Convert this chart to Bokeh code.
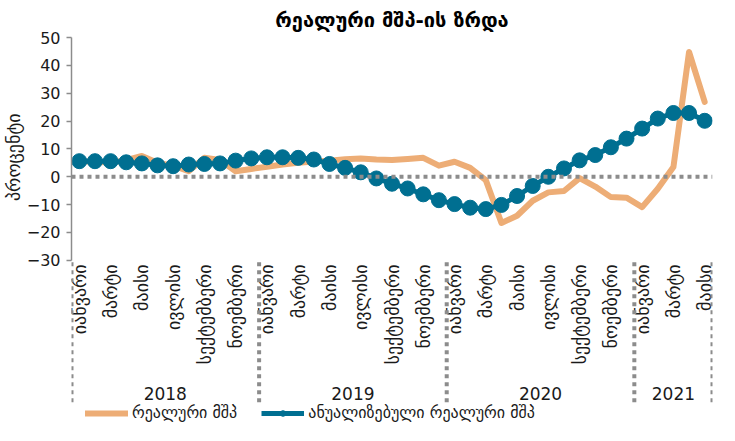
import math
from bokeh.plotting import figure
from bokeh.models import Range1d, FixedTicker, Legend, LegendItem, Span, ColumnDataSource, Title
from bokeh.core.properties import value
from bokeh.embed import file_html
from bokeh.resources import INLINE

# ---- data ----
title_text = "რეალური მშპ-ის ზრდა"
y_label = "პროცენტი"
month_names = ["იანვარი", "თებერვალი", "მარტი", "აპრილი", "მაისი", "ივნისი",
               "ივლისი", "აგვისტო", "სექტემბერი", "ოქტომბერი", "ნოემბერი", "დეკემბერი"]
years = ["2018", "2019", "2020", "2021"]
months_per_year = [12, 12, 12, 5]
series_real_name = "რეალური მშპ"
series_ann_name = "ანუალიზებული რეალური მშპ"

real_gdp = [5.5, 5.5, 5.0, 6.0, 7.5, 5.0, 4.0, 2.0, 6.8, 6.0, 2.0, 2.8,
            3.6, 4.4, 5.0, 5.5, 5.8, 6.3, 6.6, 6.2, 6.0, 6.4, 6.8, 4.0,
            5.4, 3.2, -1.2, -16.6, -14.0, -8.6, -5.6, -5.1, -0.5, -3.5, -7.3, -7.5,
            -10.9, -4.3, 3.5, 44.8, 26.9]
annualized = [5.6, 5.6, 5.6, 5.2, 4.8, 4.1, 3.8, 4.4, 4.6, 4.8, 5.8, 6.6,
              7.0, 7.0, 6.8, 6.2, 4.6, 3.2, 1.6, -0.6, -2.5, -4.2, -6.3, -8.4,
              -9.8, -11.1, -11.6, -10.1, -6.9, -3.3, 0.0, 3.0, 5.9, 7.8, 10.6, 13.7,
              17.3, 20.9, 22.9, 22.9, 20.1]
y_ticks = [-30, -20, -10, 0, 10, 20, 30, 40, 50]
label_every = 2

# ---- layout constants (pixels) ----
W, H = 719, 424
BORDER_L, BORDER_R, BORDER_T, BORDER_B = 60, 7, 35, 0
AXIS_PX = 224                # pixel height of the value axis (-30..50)
MONTH_GAP = 4                # gap between axis bottom and month labels
YEAR_OFFSET = 134            # year label centre below axis bottom
SEP_TOP, SEP_BOTTOM = 2, 143 # separator span below axis bottom
YLABEL_OFFSET = 76           # y-label top, px below frame top

ORANGE = "#EDAD76"
BLUE = "#006F91"
GREY = "#8C8C8C"
TXT = "#1A1A1A"
FONT = "DejaVu Sans"

# ---- derived positions ----
n = len(real_gdp)
x = list(range(n))
month_of = [i % 12 for i in x]
label_x = [i for i in x if month_of[i] % label_every == 0]
label_txt = [month_names[month_of[i]] for i in label_x]
starts = []
s = 0
for m in months_per_year:
    starts.append(s)
    s += m
year_bounds = [st - 0.5 for st in starts] + [n - 0.5]
year_centers = [st + (m - 1) / 2 for st, m in zip(starts, months_per_year)]

y_lo, y_hi = y_ticks[0], y_ticks[-1]
frame_px = H - BORDER_T - BORDER_B
ppu = AXIS_PX / (y_hi - y_lo)
y_start = y_hi - frame_px / ppu

def below(px):
    return y_lo - px / ppu

src = ColumnDataSource(dict(x=x, real=real_gdp, ann=annualized))
msrc = ColumnDataSource(dict(x=label_x, y=[below(MONTH_GAP)] * len(label_x), t=label_txt))
ysrc = ColumnDataSource(dict(x=year_centers, y=[below(YEAR_OFFSET)] * len(years), t=years))
ssrc = ColumnDataSource(dict(x=year_bounds, y0=[below(SEP_TOP)] * len(year_bounds),
                             y1=[below(SEP_BOTTOM)] * len(year_bounds)))

p = figure(width=W, height=H, output_backend="svg", toolbar_location=None,
           x_range=Range1d(-0.5, n - 0.5), y_range=Range1d(y_start, y_hi),
           x_axis_location=None,
           min_border_left=BORDER_L, min_border_right=BORDER_R,
           min_border_top=BORDER_T, min_border_bottom=BORDER_B)
p.outline_line_color = None
p.grid.visible = False
p.background_fill_color = "white"

p.title.text = title_text
p.title.align = "center"
p.title.text_font = FONT
p.title.text_font_size = "20px"
p.title.text_font_style = "bold"
p.title.text_color = "#000000"
p.title.standoff = 11

zero = Span(location=0, dimension="width", line_color=GREY, line_width=4, line_dash="4 4")
p.add_layout(zero)

r_or = p.line("x", "real", source=src, line_color=ORANGE, line_width=6, line_join="round", line_cap="round")
r_bl = p.line("x", "ann", source=src, line_color=BLUE, line_width=5, line_join="round")
r_pt = p.scatter("x", "ann", source=src, size=15, fill_color=BLUE, line_color=BLUE)

p.text("x", "y", text="t", source=msrc, angle=math.pi / 2, text_align="right",
       text_baseline="middle", text_font=value(FONT), text_font_size=value("18px"),
       text_color=TXT)
p.text("x", "y", text="t", source=ysrc, text_align="center", text_baseline="middle",
       text_font=value(FONT), text_font_size=value("17px"), text_color=TXT)
p.segment(x0="x", y0="y0", x1="x", y1="y1", source=ssrc, line_color=GREY,
          line_width=4, line_dash="4 4")

yax = p.yaxis[0]
yax.bounds = (y_lo, y_hi)
yax.ticker = FixedTicker(ticks=y_ticks)
yax.axis_line_color = GREY
yax.axis_line_width = 1.5
yax.major_tick_line_color = GREY
yax.major_tick_line_width = 1.5
yax.major_tick_out = 5
yax.major_tick_in = 0
yax.minor_tick_line_color = None
yax.major_label_text_font = FONT
yax.major_label_text_font_size = "16px"
yax.major_label_text_color = TXT
yax.major_label_standoff = 6

ytitle = Title(text=y_label, align="right", offset=YLABEL_OFFSET,
               text_font=FONT, text_font_size="18px", text_font_style="normal",
               text_color=TXT, standoff=0)
p.add_layout(ytitle, "left")

legend = Legend(items=[LegendItem(label=series_real_name, renderers=[r_or]),
                       LegendItem(label=series_ann_name, renderers=[r_bl, r_pt])],
                orientation="horizontal", location=(14, 2),
                glyph_width=43, glyph_height=14, label_height=14, label_standoff=4, spacing=24,
                padding=0, margin=0, border_line_color=None, background_fill_alpha=0,
                label_text_font=FONT, label_text_font_size="16px", label_text_color=TXT)
p.add_layout(legend, "center")

open("out.html", "w").write(file_html(p, INLINE))
